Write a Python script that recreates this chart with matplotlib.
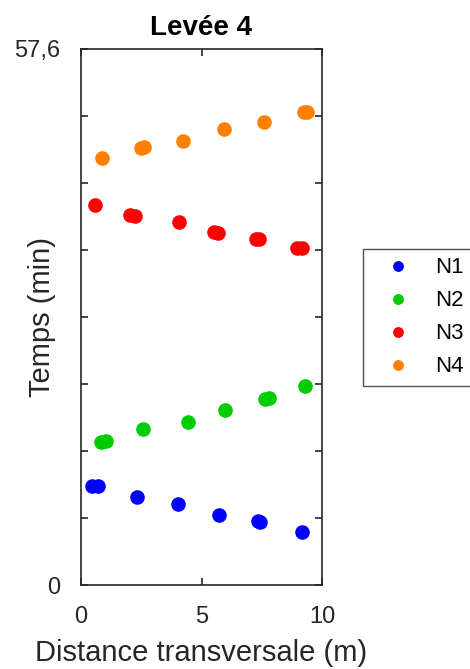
import matplotlib
matplotlib.use("Agg")
import matplotlib.pyplot as plt
import numpy as np

plt.rcParams['font.family'] = ['Liberation Sans', 'DejaVu Sans']

# Data (distance transversale en m, temps en min)
n1_x = [0.45, 0.70, 2.32, 4.01, 5.73, 7.36, 7.42, 9.18]
n1_t = [10.64, 10.66, 9.42, 8.70, 7.55, 6.88, 6.82, 5.70]
n2_x = [0.85, 1.03, 2.56, 4.44, 5.98, 7.64, 7.80, 9.29]
n2_t = [15.38, 15.50, 16.76, 17.55, 18.77, 19.98, 20.06, 21.35]
n3_x = [0.57, 2.05, 2.24, 4.05, 5.53, 5.70, 7.28, 7.40, 8.96, 9.15]
n3_t = [40.87, 39.76, 39.70, 39.04, 37.90, 37.82, 37.22, 37.19, 36.24, 36.18]
n4_x = [0.88, 2.48, 2.60, 4.23, 5.93, 7.60, 9.25, 9.38]
n4_t = [45.92, 46.95, 47.03, 47.74, 48.97, 49.72, 50.86, 50.86]

series = [("N1", n1_x, n1_t, "#0000ff"),
          ("N2", n2_x, n2_t, "#00cc00"),
          ("N3", n3_x, n3_t, "#ff0000"),
          ("N4", n4_x, n4_t, "#ff8000")]

ytick_vals = [0, 7.2, 14.4, 21.6, 28.8, 36.0, 43.2, 50.4, 57.6]
ytick_labels = ["0", "", "", "", "", "", "", "", "57,6"]
xtick_vals = [0, 5, 10]
xtick_labels = ["0", "5", "10"]

fig = plt.figure(figsize=(4.70, 6.69), dpi=100)
ax = fig.add_axes([81/470, 1-585/669, 241/470, 536/669])

handles = []
for name, xs, ts, col in series:
    ax.plot(xs, ts, linestyle='none', marker='o', markersize=10.5,
            color=col, markeredgewidth=0)
    h, = ax.plot([], [], linestyle='none', marker='o', markersize=7.8,
                 color=col, markeredgewidth=0, label=name)
    handles.append(h)

ax.set_xlim(0, 10)
ax.set_ylim(0, 57.6)
ax.set_xticks(xtick_vals)
ax.set_xticklabels(xtick_labels)
ax.set_yticks(ytick_vals)
ax.set_yticklabels(ytick_labels)

dark = "#262626"
for sp in ax.spines.values():
    sp.set_linewidth(1.2)
    sp.set_color(dark)
ax.tick_params(direction='in', length=5, width=1.2, color=dark,
               top=True, right=True, labelsize=17, labelcolor=dark)
ax.tick_params(axis='x', pad=15)
ax.tick_params(axis='y', pad=15)

ax.set_title("Levée 4", fontsize=20, fontweight='bold', pad=10, color='black')
ax.set_xlabel("Distance transversale (m)", fontsize=21, color=dark)
ax.set_ylabel("Temps (min)", fontsize=21, color=dark)
ax.xaxis.set_label_coords(0.5, -0.101)
ax.yaxis.set_label_coords(-0.163, 0.5)
ax.yaxis.label.set_verticalalignment('center')

leg = fig.legend(handles=handles, loc='upper left',
                 bbox_to_anchor=(363/470, 1-249/669),
                 bbox_transform=fig.transFigure, borderaxespad=0,
                 fontsize=16, frameon=True, fancybox=False,
                 handlelength=2.43, handletextpad=0.45, labelspacing=0.54,
                 borderpad=0.38)
leg.get_frame().set_edgecolor(dark)
leg.get_frame().set_linewidth(1.0)
for t in leg.get_texts():
    t.set_color('black')

fig.savefig("out.png", dpi=100)
